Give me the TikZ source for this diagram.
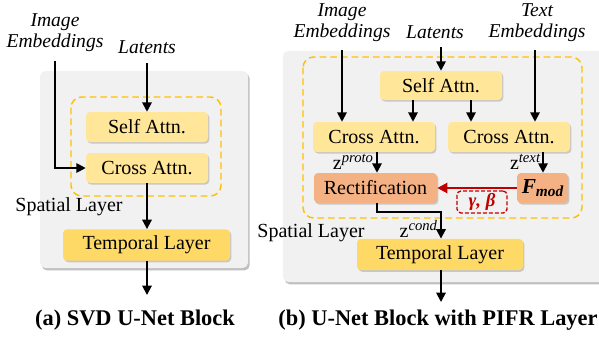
\documentclass[tikz,border=0pt]{standalone}
\usepackage{fontspec}
\setmainfont{Liberation Serif}
\usetikzlibrary{shadows,arrows.meta}
\definecolor{bgg}{HTML}{F1F1F1}
\definecolor{lyel}{HTML}{FFE699}
\definecolor{dyel}{HTML}{FFD966}
\definecolor{orng}{HTML}{F4B183}
\definecolor{dorg}{HTML}{FFC000}
\definecolor{dred}{HTML}{C00000}
\begin{document}
\begin{tikzpicture}[x=0.75pt,y=-0.75pt,
  mainfont/.style={font=\fontsize{15}{16}\selectfont},
  panel/.style={fill=bgg, draw=none, rounded corners=4pt,
    drop shadow={shadow xshift=1.3pt, shadow yshift=-1.8pt, opacity=0.45, fill=black!55}},
  dashbox/.style={draw=dorg, dashed, dash pattern=on 5pt off 3pt, line width=1.1pt, rounded corners=8pt},
  blk/.style={draw=none, rounded corners=3pt, mainfont, inner sep=0pt,
    drop shadow={shadow xshift=1pt, shadow yshift=-1.2pt, opacity=0.3, fill=black!60}},
  attn/.style={blk, fill=lyel, minimum width=91.5pt, minimum height=22.5pt},
  temp/.style={blk, fill=dyel, minimum height=23.5pt},
  rectif/.style={blk, fill=orng, minimum height=22.5pt},
  lbl/.style={font=\fontsize{14.7}{15.5}\selectfont\itshape, align=center, inner sep=0pt},
  plaintxt/.style={mainfont, inner sep=0pt},
  captxt/.style={font=\fontsize{16.8}{18}\selectfont\bfseries, inner sep=0pt},
  zlbl/.style={font=\fontsize{15}{16}\selectfont, inner sep=0pt},
  arr/.style={line width=1.4pt, -{Triangle[length=7pt,width=7pt]}},
  rarr/.style={line width=1.6pt, draw=dred, -{Triangle[length=7.5pt,width=7.5pt]}}
]
\useasboundingbox (0,0) rectangle (599,337);

% ---------------- left panel (a) ----------------
\path[panel] (40,71) rectangle (248,268);
\draw[dashbox] (71,97) rectangle (221,196);
\node[attn] (selfL) at (147,127) {Self Attn.};
\node[attn] (crossL) at (147,168) {Cross Attn.};
\node[temp, minimum width=125.25pt] (tempL) at (146.5,245) {Temporal Layer};
\node[lbl] (imgL) at (55,32.5) {Image\\Embeddings};
\node[lbl] (latL) at (147,47) {Latents};
\node[plaintxt] (spL) at (69,207) {Spatial Layer};
\coordinate (imgLs) at (55,61);
\coordinate (latLs) at (147,63);
\coordinate (outL) at (147,295);
\draw[arr] (imgLs) |- (crossL.west);
\draw[arr] (latLs) -- (selfL.north);
\draw[arr] (crossL.south) -- (tempL.north -| crossL.south);
\draw[arr] (tempL.south -| crossL.south) -- (outL);
\node[captxt] (capA) at (135,320) {(a) SVD U-Net Block};

% ---------------- right panel (b) ----------------
\path[panel] (283,51) rectangle (608,282);
\draw[dashbox] (303,57) rectangle (582,218);
\node[attn, minimum height=21.75pt] (selfR) at (441,85.5) {Self Attn.};
\node[attn] (crossR1) at (374,137) {Cross Attn.};
\node[attn] (crossR2) at (509,137) {Cross Attn.};
\node[rectif, minimum width=92.25pt] (rect) at (375.5,188) {Rectification};
\node[rectif, minimum width=38.25pt] (fmod) at (542.5,188)
  {\fontsize{16}{16}\selectfont\bfseries\itshape F\raisebox{-0.35ex}{\fontsize{11.5}{12}\selectfont mod}};
\node[draw=dred, dashed, dash pattern=on 3pt off 1.5pt, line width=1pt, rounded corners=3pt,
  minimum width=37.5pt, minimum height=16.5pt, inner sep=0pt,
  text=dred, font=\fontsize{14}{15}\selectfont\bfseries\itshape] (gb) at (482,202) {γ, β};
\node[temp, minimum width=124.5pt] (tempR) at (440,254.5) {Temporal Layer};
\node[lbl] (imgR) at (342,22.5) {Image\\Embeddings};
\node[lbl] (latR) at (435,32) {Latents};
\node[lbl] (txtR) at (537,22.5) {Text\\Embeddings};
\node[plaintxt] (spR) at (311,233) {Spatial Layer};
\coordinate (imgRs) at (342,50);
\coordinate (latRs) at (441,47);
\coordinate (txtRs) at (535,50);
\coordinate (outR) at (441,302);
\coordinate (bend1) at (377,212);
\coordinate (bend2) at (441,212);
\coordinate (xa) at (413,0);
\coordinate (xb) at (471,0);
\coordinate (xc) at (377,0);
\coordinate (xd) at (543,0);
\draw[arr] (imgRs) -- (imgRs |- crossR1.north);
\draw[arr] (latRs) -- (selfR.north -| latRs);
\draw[arr] (selfR.south -| xa) -- (crossR1.north -| xa);
\draw[arr] (selfR.south -| xb) -- (crossR2.north -| xb);
\draw[arr] (txtRs) -- (txtRs |- crossR2.north);
\draw[arr] (crossR1.south -| xc) -- (rect.north -| xc);
\draw[arr] (crossR2.south -| xd) -- (fmod.north -| xd);
\draw[rarr] (fmod.west) -- (rect.east);
\draw[arr] (rect.south -| bend1) -- (bend1) -- (bend2) -- (tempR.north -| bend2);
\draw[arr] (tempR.south -| outR) -- (outR);
\node[zlbl, anchor=east] (zp) at (374,162) {z\textsuperscript{\itshape\fontsize{11}{11}\selectfont proto}};
\node[zlbl, anchor=east] (zt) at (541,162) {z\textsuperscript{\itshape\fontsize{11}{11}\selectfont text}};
\node[zlbl, anchor=east] (zc) at (438,229) {z\textsuperscript{\itshape\fontsize{11}{11}\selectfont cond}};
\node[captxt] (capB) at (438,320) {(b) U-Net Block with PIFR Layer};
\end{tikzpicture}
\end{document}
